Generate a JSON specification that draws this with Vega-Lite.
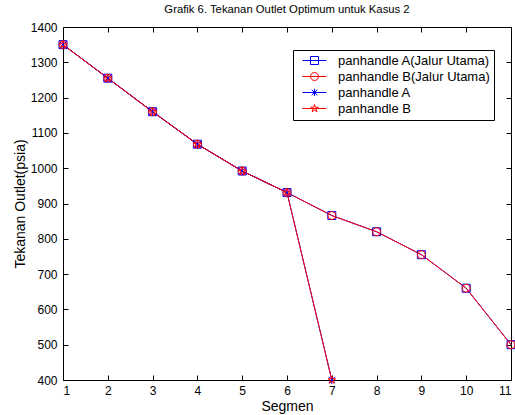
{
  "$schema": "https://vega.github.io/schema/vega-lite/v6.json",
  "width": 448,
  "height": 353,
  "autosize": "none",
  "padding": {"left": 63, "top": 27, "right": 4, "bottom": 35},
  "background": "white",
  "title": {"text": "Grafik 6. Tekanan Outlet Optimum untuk Kasus 2", "fontSize": 11.3, "fontWeight": "normal", "font": "Liberation Sans", "color": "black", "offset": 6, "anchor": "middle"},
  "config": {
    "view": {"stroke": "black", "strokeWidth": 1},
    "axis": {"grid": false, "domain": false, "tickColor": "black", "tickSize": -5, "labelFont": "Liberation Sans", "labelFontSize": 12, "labelColor": "black", "titleFont": "Liberation Sans", "titleFontSize": 14, "titleFontWeight": "normal", "titleColor": "black"},
    "legend": {"labelFont": "Liberation Sans", "labelFontSize": 13, "labelColor": "black"}
  },
  "data": {"values": [
    {"seg": 1, "p": 1350, "series": "panhandle A(Jalur Utama)"},
    {"seg": 2, "p": 1255, "series": "panhandle A(Jalur Utama)"},
    {"seg": 3, "p": 1160, "series": "panhandle A(Jalur Utama)"},
    {"seg": 4, "p": 1068, "series": "panhandle A(Jalur Utama)"},
    {"seg": 5, "p": 992, "series": "panhandle A(Jalur Utama)"},
    {"seg": 6, "p": 931, "series": "panhandle A(Jalur Utama)"},
    {"seg": 7, "p": 866, "series": "panhandle A(Jalur Utama)"},
    {"seg": 8, "p": 820, "series": "panhandle A(Jalur Utama)"},
    {"seg": 9, "p": 755, "series": "panhandle A(Jalur Utama)"},
    {"seg": 10, "p": 660, "series": "panhandle A(Jalur Utama)"},
    {"seg": 11, "p": 500, "series": "panhandle A(Jalur Utama)"},
    {"seg": 1, "p": 1350, "series": "panhandle B(Jalur Utama)"},
    {"seg": 2, "p": 1255, "series": "panhandle B(Jalur Utama)"},
    {"seg": 3, "p": 1160, "series": "panhandle B(Jalur Utama)"},
    {"seg": 4, "p": 1068, "series": "panhandle B(Jalur Utama)"},
    {"seg": 5, "p": 992, "series": "panhandle B(Jalur Utama)"},
    {"seg": 6, "p": 931, "series": "panhandle B(Jalur Utama)"},
    {"seg": 7, "p": 866, "series": "panhandle B(Jalur Utama)"},
    {"seg": 8, "p": 820, "series": "panhandle B(Jalur Utama)"},
    {"seg": 9, "p": 755, "series": "panhandle B(Jalur Utama)"},
    {"seg": 10, "p": 660, "series": "panhandle B(Jalur Utama)"},
    {"seg": 11, "p": 500, "series": "panhandle B(Jalur Utama)"},
    {"seg": 1, "p": 1350, "series": "panhandle A"},
    {"seg": 2, "p": 1255, "series": "panhandle A"},
    {"seg": 3, "p": 1160, "series": "panhandle A"},
    {"seg": 4, "p": 1068, "series": "panhandle A"},
    {"seg": 5, "p": 992, "series": "panhandle A"},
    {"seg": 6, "p": 931, "series": "panhandle A"},
    {"seg": 7, "p": 400, "series": "panhandle A"},
    {"seg": 1, "p": 1350, "series": "panhandle B"},
    {"seg": 2, "p": 1255, "series": "panhandle B"},
    {"seg": 3, "p": 1160, "series": "panhandle B"},
    {"seg": 4, "p": 1068, "series": "panhandle B"},
    {"seg": 5, "p": 992, "series": "panhandle B"},
    {"seg": 6, "p": 931, "series": "panhandle B"},
    {"seg": 7, "p": 400, "series": "panhandle B"}
  ]},
  "layer": [
    {
      "mark": {"type": "line", "strokeWidth": 1},
      "encoding": {
        "x": {"field": "seg", "type": "quantitative", "scale": {"domain": [1, 11], "nice": false, "zero": false}, "axis": {"orient": "bottom", "values": [1,2,3,4,5,6,7,8,9,10,11], "format": "d", "title": "Segmen", "labelPadding": 10, "titlePadding": 3}},
        "y": {"field": "p", "type": "quantitative", "scale": {"domain": [400, 1400], "nice": false, "zero": false}, "axis": {"orient": "left", "values": [400,500,600,700,800,900,1000,1100,1200,1300,1400], "format": "d", "title": "Tekanan Outlet(psia)", "labelPadding": 11, "titlePadding": 3}},
        "color": {"field": "series", "type": "nominal", "scale": {"domain": ["panhandle A(Jalur Utama)", "panhandle B(Jalur Utama)", "panhandle A", "panhandle B"], "range": ["blue", "red", "blue", "red"]}, "legend": null},
        "detail": {"field": "series"}
      }
    },
    {
      "mark": {"type": "point", "filled": false, "strokeWidth": 1, "opacity": 1, "size": 64},
      "encoding": {
        "x": {"field": "seg", "type": "quantitative", "axis": {"orient": "top", "values": [1,2,3,4,5,6,7,8,9,10,11], "labels": false, "title": null}},
        "y": {"field": "p", "type": "quantitative", "axis": {"orient": "right", "values": [400,500,600,700,800,900,1000,1100,1200,1300,1400], "labels": false, "title": null}},
        "color": {"field": "series", "type": "nominal", "scale": {"domain": ["panhandle A(Jalur Utama)", "panhandle B(Jalur Utama)", "panhandle A", "panhandle B"], "range": ["blue", "red", "blue", "red"]}, "legend": null},
        "shape": {"field": "series", "type": "nominal", "scale": {"domain": ["panhandle A(Jalur Utama)", "panhandle B(Jalur Utama)", "panhandle A", "panhandle B"], "range": ["square", "circle", "M-0.8,-0.8L0.8,0.8M0.8,-0.8L-0.8,0.8M0,-1V1", "M0,-1L0.225,-0.309L0.951,-0.309L0.363,0.118L0.588,0.809L0,0.382L-0.588,0.809L-0.363,0.118L-0.951,-0.309L-0.225,-0.309Z"]}, "legend": null}
      }
    },
    {
      "mark": {"type": "point", "filled": false, "strokeWidth": 1, "opacity": 0, "size": 64},
      "encoding": {
        "x": {"field": "seg", "type": "quantitative", "axis": null},
        "y": {"field": "p", "type": "quantitative", "axis": null},
        "color": {"field": "series", "type": "nominal", "scale": {"domain": ["panhandle A(Jalur Utama)", "panhandle B(Jalur Utama)", "panhandle A", "panhandle B"], "range": ["blue", "red", "blue", "red"]},
          "legend": {"title": null, "orient": "none", "legendX": 230, "legendY": 23, "strokeColor": "black", "fillColor": "white", "padding": 4, "symbolSize": 64, "symbolOffset": 11, "labelOffset": 17, "rowPadding": 2, "symbolOpacity": 1, "symbolStrokeWidth": 1}},
        "shape": {"field": "series", "type": "nominal", "scale": {"domain": ["panhandle A(Jalur Utama)", "panhandle B(Jalur Utama)", "panhandle A", "panhandle B"], "range": ["M-3,0H3M-1,-1H1V1H-1Z", "M-3,0H3M1,0A1,1,0,1,1,-1,0A1,1,0,1,1,1,0Z", "M-3,0H3M-0.7,-0.7L0.7,0.7M0.7,-0.7L-0.7,0.7M0,-0.9V0.9", "M-3,0H3M0,-1L0.225,-0.309L0.951,-0.309L0.363,0.118L0.588,0.809L0,0.382L-0.588,0.809L-0.363,0.118L-0.951,-0.309L-0.225,-0.309Z"]},
          "legend": {"title": null, "orient": "none", "legendX": 230, "legendY": 23, "strokeColor": "black", "fillColor": "white", "padding": 4, "symbolSize": 64, "symbolOffset": 11, "labelOffset": 17, "rowPadding": 2, "symbolOpacity": 1, "symbolStrokeWidth": 1}}
      }
    }
  ],
  "resolve": {"scale": {"shape": "independent", "color": "independent"}}
}
